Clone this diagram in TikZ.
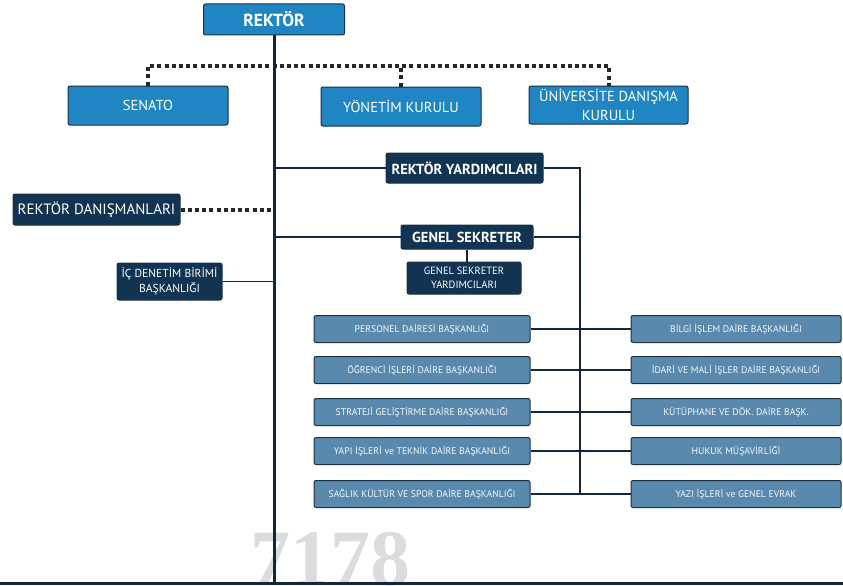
\documentclass[tikz,border=0pt]{standalone}
\usepackage{fontspec}
\setmainfont{PT Sans}
\newfontfamily\wmfont{Liberation Serif}
\definecolor{topblue}{HTML}{1F86C3}
\definecolor{navybox}{HTML}{103452}
\definecolor{steelbox}{HTML}{5A89AE}
\definecolor{edgecol}{HTML}{1B2F45}
\definecolor{linecol}{HTML}{14263A}
\definecolor{wmgray}{HTML}{DCDCDC}
\usetikzlibrary{calc}

\begin{document}
\begin{tikzpicture}[x=1pt,y=-1pt,
        box/.style={draw=edgecol,line width=1pt,rounded corners=2pt,text=white,align=center,inner sep=1pt},
        topbox/.style={box,fill=topblue,font=\fontsize{14.5}{19}\selectfont},
        navy/.style={box,fill=navybox,font=\bfseries\fontsize{14.5}{16}\selectfont},
        unitbox/.style={box,fill=steelbox,minimum height=27pt,text=white!92!steelbox,font=\fontsize{9.7}{11}\selectfont},
        link/.style={draw=linecol,line width=1.8pt},
        dotlink/.style={draw=black!85,line width=4pt,dash pattern=on 4pt off 3.2pt}]
        \useasboundingbox(0,0)rectangle(843,586);
        \node[text=wmgray,font=\wmfont\bfseries\fontsize{80}{80}\selectfont,anchor=base west,inner sep=0pt](wm)at(250,585){7178};
        \node[topbox,font=\bfseries\fontsize{17.5}{18}\selectfont,minimum width=141pt,minimum height=31pt](rektor)at(274,19.5){REKTÖR};
        \node[topbox,minimum width=160pt,minimum height=39pt](senato)at(148,105.5){SENATO};
        \node[topbox,minimum width=160pt,minimum height=39pt](yonetim)at(401,106.5){YÖNETİM KURULU};
        \node[topbox,minimum width=159pt,minimum height=38pt](udk)at(608.5,105){ÜNİVERSİTE DANIŞMA\\KURULU};
        \node[navy,minimum width=157pt,minimum height=30pt](ry)at(464.5,168){REKTÖR YARDIMCILARI};
        \node[navy,font=\fontsize{15}{16}\selectfont,minimum width=167pt,minimum height=31pt](rd)at(96.5,209.5){REKTÖR DANIŞMANLARI};
        \node[navy,minimum width=132pt,minimum height=24pt](gs)at(467,237){GENEL SEKRETER};
        \node[navy,font=\fontsize{10.5}{14}\selectfont,minimum width=114pt,minimum height=32pt](gsy)at(464,278){GENEL SEKRETER\\YARDIMCILARI};
        \node[navy,font=\fontsize{11.6}{14.5}\selectfont,minimum width=105pt,minimum height=37pt](ic)at(169.5,281.5){İÇ DENETİM BİRİMİ\\BAŞKANLIĞI};
        \node[unitbox,minimum width=216pt](l1)at(422,329){PERSONEL DAİRESİ BAŞKANLIĞI};
        \node[unitbox,minimum width=216pt](l2)at(422,370){ÖĞRENCİ İŞLERİ DAİRE BAŞKANLIĞI};
        \node[unitbox,minimum width=216pt](l3)at(422,412){STRATEJİ GELİŞTİRME DAİRE BAŞKANLIĞI};
        \node[unitbox,minimum width=216pt](l4)at(422,451){YAPI İŞLERİ ve TEKNİK DAİRE BAŞKANLIĞI};
        \node[unitbox,minimum width=216pt](l5)at(422,494){SAĞLIK KÜLTÜR VE SPOR DAİRE BAŞKANLIĞI};
        \node[unitbox,minimum width=210pt](r1)at(736,329){BİLGİ İŞLEM DAİRE BAŞKANLIĞI};
        \node[unitbox,minimum width=210pt](r2)at(736,370){İDARİ VE MALİ İŞLER DAİRE BAŞKANLIĞI};
        \node[unitbox,minimum width=210pt](r3)at(736,412){KÜTÜPHANE VE DÖK. DAİRE BAŞK.};
        \node[unitbox,minimum width=210pt](r4)at(736,451){HUKUK MÜŞAVİRLİĞİ};
        \node[unitbox,minimum width=210pt](r5)at(736,494){YAZI İŞLERİ ve GENEL EVRAK};
        \coordinate(bus)at(0,66);
        \coordinate(foot)at(274,583);
        \coordinate(rtrunk)at(580,494);
        \draw[dotlink](senato.north)--(senato.north|-bus)--(udk.north|-bus)--(udk.north);
        \draw[dotlink](yonetim.north)--(yonetim.north|-bus);
        \draw[dotlink](rd.east)--(rd.east-|rektor.south);
        \draw[link](ry.west-|rektor.south)--(ry.west);
        \draw[link](gs.west-|rektor.south)--(gs.west);
        \draw[link](ic.east)--(ic.east-|rektor.south);
        \draw[link](gs.south)--(gs.south|-gsy.north);
        \draw[link](ry.east)-|(rtrunk);
        \draw[link](gs.east)--(gs.east-|rtrunk);
        \foreach \i in {1,...,5}
            \draw[link](l\i.east)--(r\i.west);
        \draw[draw=linecol,line width=3pt](rektor.south)--(foot);
        \draw[draw=linecol,line width=3pt](foot-|0,0)--(foot-|843,0);
\end{tikzpicture}
\end{document}
